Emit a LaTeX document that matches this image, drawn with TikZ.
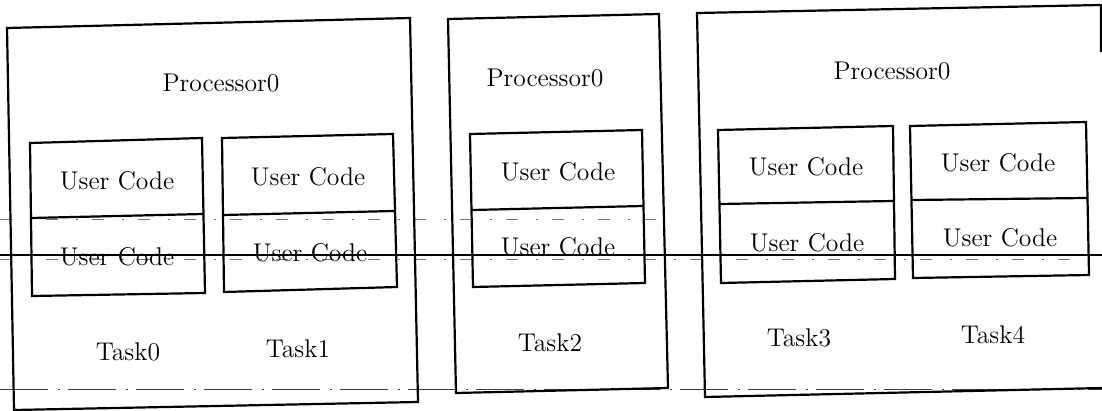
\documentclass[tikz,border=0pt]{standalone}
\begin{document}
\begin{tikzpicture}[x=0.5pt,y=-0.5pt,
  frame/.style={draw=black,line width=1.1pt,line join=miter},
  label/.style={font=\fontsize{12.8}{15}\selectfont,inner sep=0pt},
  guide/.style={draw=black!75,line width=0.45pt,dash pattern=on 24pt off 5pt on 1pt off 4pt},
  guidefine/.style={draw=black!55,line width=0.4pt,dash pattern=on 6pt off 9pt on 1pt off 7pt},
  baseline/.style={draw=black,line width=0.9pt}]
\useasboundingbox (0,0) rectangle (1102,411);
\fill[white] (0,0) rectangle (1102,411);

% guide lines behind the frames
\draw[guidefine] (0,219) -- (660,219);
\draw[guidefine] (0,259) -- (1102,259);
\draw[guide] (0,389) -- (1102,389);

% processor frames
\draw[frame] (7,28) -- (410,18) -- (418,402) -- (14,410) -- cycle;
\draw[frame] (448,19) -- (659,14) -- (668,388) -- (456,393) -- cycle;
\draw[frame] (1101,52) -- (1101,5) -- (697,13) -- (705,397) -- (1102,388);

% task stacks: two code blocks each
\draw[frame] (30,143) -- (202,138) -- (205,293) -- (32,296) -- cycle;
\draw[frame] (31,218) -- (203,214);
\draw[frame] (222,138) -- (393,134) -- (397,287) -- (224,292) -- cycle;
\draw[frame] (223,215) -- (394,211);
\draw[frame] (470,134) -- (642,130) -- (645,283) -- (473,287) -- cycle;
\draw[frame] (472,210) -- (643,206);
\draw[frame] (718,130) -- (893,126) -- (895,279) -- (721,283) -- cycle;
\draw[frame] (720,204) -- (893,201);
\draw[frame] (910,126) -- (1086,122) -- (1089,275) -- (913,278) -- cycle;
\draw[frame] (912,200) -- (1087,198);

% horizontal rule across the page
\draw[baseline] (0,255) -- (1102,255);

% texts
\node[label] (p0) at (221,83) {Processor0};
\node[label] (p1) at (545,78) {Processor0};
\node[label] (p2) at (892,71) {Processor0};

\node[label] (a0) at (117,181) {User Code};
\node[label] (b0) at (117,257) {User Code};
\node[label] (a1) at (308,177) {User Code};
\node[label] (b1) at (310,253) {User Code};
\node[label] (a2) at (558,172) {User Code};
\node[label] (b2) at (558,247) {User Code};
\node[label] (a3) at (806,167) {User Code};
\node[label] (b3) at (807,243) {User Code};
\node[label] (a4) at (998,163) {User Code};
\node[label] (b4) at (1000,238) {User Code};

\node[label] (t0) at (128,352) {Task0};
\node[label] (t1) at (298,349) {Task1};
\node[label] (t2) at (550,343) {Task2};
\node[label] (t3) at (799,338) {Task3};
\node[label] (t4) at (993,335) {Task4};
\end{tikzpicture}
\end{document}
